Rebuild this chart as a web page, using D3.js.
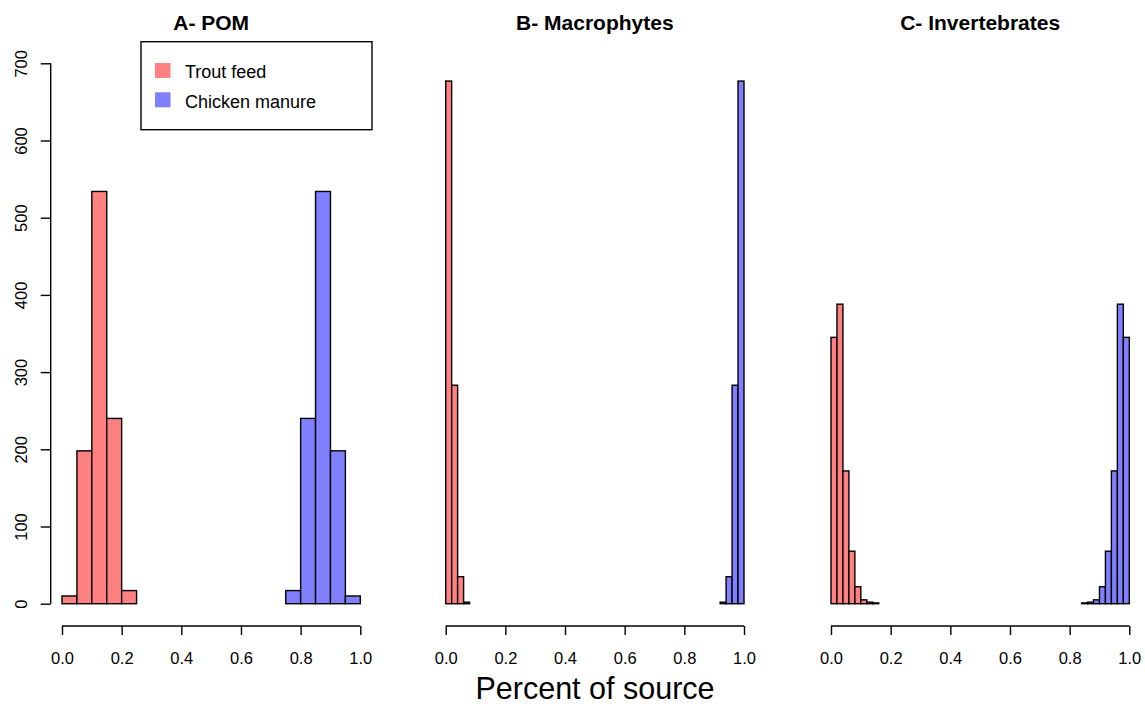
<!DOCTYPE html>
<html>
<head>
<meta charset="utf-8">
<script src="https://cdn.jsdelivr.net/npm/d3@7"></script>
<style>
  body { margin: 0; background: #fff; }
  text { font-family: "Liberation Sans", Arial, sans-serif; fill: #000; }
</style>
</head>
<body>
<svg width="1145" height="706"></svg>
<script>
// panel titles and bin widths
var titles = ["A- POM", "B- Macrophytes", "C- Invertebrates"];
var binWidth = [0.05, 0.02, 0.02];

// bin starts + counts, trout feed (red) and chicken manure (blue)
var pomTroutBins = [0.00, 0.05, 0.10, 0.15, 0.20];
var pomTroutCounts = [10, 198, 534, 240, 17];
var pomChickenBins = [0.75, 0.80, 0.85, 0.90, 0.95];
var pomChickenCounts = [17, 240, 534, 198, 10];

var macTroutBins = [0.00, 0.02, 0.04, 0.06];
var macTroutCounts = [677, 283, 35, 2];
var macChickenBins = [0.92, 0.94, 0.96, 0.98];
var macChickenCounts = [2, 35, 283, 677];

var invTroutBins = [0.00, 0.02, 0.04, 0.06, 0.08, 0.10, 0.12, 0.14];
var invTroutCounts = [345, 388, 172, 68, 22, 5, 2, 1];
var invChickenBins = [0.84, 0.86, 0.88, 0.90, 0.92, 0.94, 0.96, 0.98];
var invChickenCounts = [1, 2, 5, 22, 68, 172, 388, 345];

var yTicks = [0, 100, 200, 300, 400, 500, 600, 700];
var xTicks = [0, 0.2, 0.4, 0.6, 0.8, 1.0];

var legendLabels = ["Trout feed", "Chicken manure"];
var colors = ["#ff8080", "#8080ff"];

var panelData = [
  [[pomTroutBins, pomTroutCounts], [pomChickenBins, pomChickenCounts]],
  [[macTroutBins, macTroutCounts], [macChickenBins, macChickenCounts]],
  [[invTroutBins, invTroutCounts], [invChickenBins, invChickenCounts]]
];

var svg = d3.select("svg");
var panelLeft = [62, 445.7, 831];
var panelW = 298.3;

var y = d3.scaleLinear().domain([0, 700]).range([603.7, 63.3]);

panelData.forEach(function(series, p) {
  var x = d3.scaleLinear().domain([0, 1]).range([panelLeft[p], panelLeft[p] + panelW]);
  var g = svg.append("g");

  series.forEach(function(s, k) {
    var bins = s[0].map(function(b, i) { return {x0: b, x1: b + binWidth[p], n: s[1][i]}; });
    g.selectAll(null)
      .data(bins)
      .enter().append("rect")
      .attr("x", function(d) { return x(d.x0); })
      .attr("width", function(d) { return x(d.x1) - x(d.x0); })
      .attr("y", function(d) { return y(d.n); })
      .attr("height", function(d) { return y(0) - y(d.n); })
      .attr("fill", colors[k])
      .attr("stroke", "#000")
      .attr("stroke-width", 1.4);
  });

  // x axis
  var xAxis = d3.axisBottom(x).tickValues(xTicks).tickSize(9).tickPadding(0)
      .tickFormat(d3.format(".1f"));
  var ax = g.append("g").attr("transform", "translate(0,626)").call(xAxis);
  ax.select(".domain").attr("d", "M" + x(0) + ",0H" + x(1)).attr("stroke-width", 1.4);
  ax.selectAll(".tick line").attr("stroke-width", 1.4);
  ax.selectAll("text")
    .attr("y", 38).attr("dy", 0)
    .style("font-size", "16.5px")
    .style("font-family", "Liberation Sans, Arial, sans-serif");

  // title
  g.append("text")
    .attr("x", x(0.5))
    .attr("y", 30)
    .attr("text-anchor", "middle")
    .style("font-size", "21px")
    .style("font-weight", "bold")
    .text(titles[p]);
});

// y axis only on first panel
var yAxis = d3.axisLeft(y).tickValues(yTicks).tickSize(10).tickPadding(13);
var ay = svg.append("g").attr("transform", "translate(50.7,0)").call(yAxis);
ay.select(".domain").attr("d", "M0," + y(0) + "V" + y(700)).attr("stroke-width", 1.4);
ay.selectAll(".tick line").attr("stroke-width", 1.4);
ay.selectAll("text")
  .style("font-size", "16.5px")
  .style("font-family", "Liberation Sans, Arial, sans-serif")
  .attr("text-anchor", "middle")
  .attr("x", 0).attr("y", 0).attr("dy", 0)
  .attr("transform", "translate(-24,0) rotate(-90)");

// x label
svg.append("text")
  .attr("x", 595)
  .attr("y", 699)
  .attr("text-anchor", "middle")
  .style("font-size", "30.5px")
  .text("Percent of source");

// legend
var lg = svg.append("g");
lg.append("rect").attr("x", 141).attr("y", 41.7).attr("width", 231).attr("height", 88)
  .attr("fill", "#fff").attr("stroke", "#000").attr("stroke-width", 1.4);
legendLabels.forEach(function(l, i) {
  lg.append("rect").attr("x", 155).attr("y", 63 + i * 29.3).attr("width", 15.5).attr("height", 15)
    .attr("fill", colors[i]);
  lg.append("text").attr("x", 185).attr("y", 78 + i * 29.5).style("font-size", "18px").text(l);
});
</script>
</body>
</html>
